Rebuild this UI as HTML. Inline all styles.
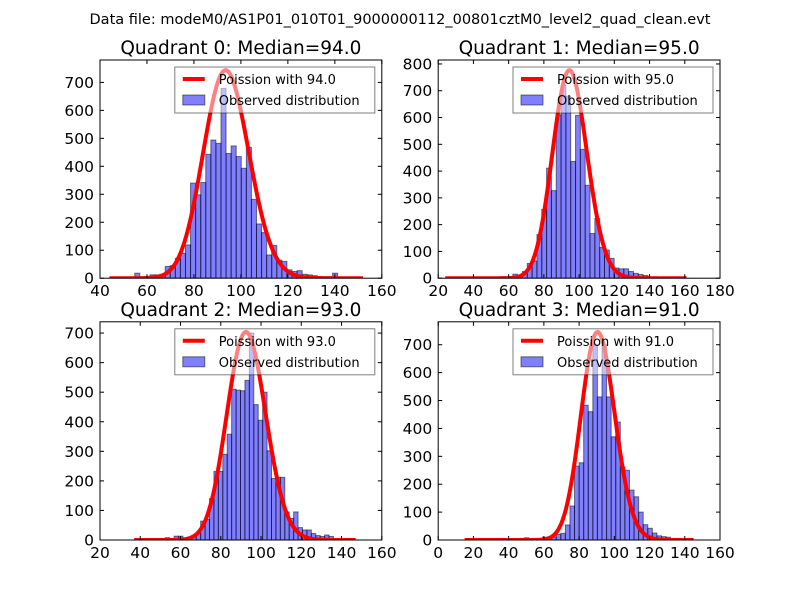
<!DOCTYPE html>
<html><head><meta charset="utf-8"><style>
html,body{margin:0;padding:0;background:#fff;}
svg{display:block;font-family:"DejaVu Sans","Liberation Sans",sans-serif;}
</style></head><body>
<svg id="fig" width="800" height="600" viewBox="0 0 800 600">
<rect width="800" height="600" fill="#fff"/>
<text x="400" y="24" text-anchor="middle" font-size="14.5">Data file: modeM0/AS1P01_010T01_9000000112_00801cztM0_level2_quad_clean.evt</text>
</svg>
<script>
// ---- data ----
const medians = [94, 95, 93, 91];
const curvePeaks = [743, 776, 703, 745];
const curveStarts = [44, 24, 37, 15];
const curveEnds = [152, 161, 147, 145];
const binStarts = [44, 24, 37, 15];
const binWidths = [2.16, 2.74, 2.2, 2.6];
const counts0 = [0,0,0,0,0,18,0,0,12,12,14,42,45,71,89,119,340,298,342,443,494,482,679,446,473,435,393,468,282,194,163,83,117,65,60,30,24,27,14,12,9,6,0,0,18,0,0,0,0,0];
const counts1 = [0,0,0,0,0,0,0,0,0,0,0,0,5,0,15,9,25,55,64,163,257,411,327,610,720,680,436,608,481,347,167,223,115,105,74,38,35,35,25,18,14,10,0,5,0,0,0,0,0,0];
const counts2 = [0,0,0,0,0,0,0,8,0,13,13,5,10,16,22,64,70,140,232,232,290,358,510,507,505,540,700,458,405,500,302,208,212,212,95,73,95,42,34,34,22,15,12,17,12,5,0,0,0,0];
const counts3 = [0,0,0,0,0,0,0,0,0,0,0,0,0,8,0,0,5,10,10,10,20,24,54,122,265,277,483,460,700,513,700,513,370,423,262,250,179,155,100,55,42,25,15,12,10,0,0,0,0,0];
const allCounts = [counts0, counts1, counts2, counts3];
const xRanges = [[40,160],[20,180],[20,160],[0,160]];
const xTicks0 = [40,60,80,100,120,140,160];
const xTicks1 = [20,40,60,80,100,120,140,160,180];
const xTicks2 = [20,40,60,80,100,120,140,160];
const xTicks3 = [0,20,40,60,80,100,120,140,160];
const allXTicks = [xTicks0, xTicks1, xTicks2, xTicks3];
const yTicks0 = [0,100,200,300,400,500,600,700];
const yTicks1 = [0,100,200,300,400,500,600,700,800];
const yTicks2 = [0,100,200,300,400,500,600,700];
const yTicks3 = [0,100,200,300,400,500,600,700];
const allYTicks = [yTicks0, yTicks1, yTicks2, yTicks3];

const NS = "http://www.w3.org/2000/svg";
const fig = document.getElementById('fig');
const boxes = [[100,60,281.8,218.2],[438.2,60,281.8,218.2],[100,321.8,281.8,218.2],[438.2,321.8,281.8,218.2]];
function mk(tag, attrs, parent){const e=document.createElementNS(NS,tag);for(const k in attrs)e.setAttribute(k,attrs[k]);(parent||fig).appendChild(e);return e;}
function lgamma(z){
  let s=0; while(z<7){s-=Math.log(z);z+=1;}
  const z2=1/(z*z);
  return s+(z-0.5)*Math.log(z)-z+0.5*Math.log(2*Math.PI)+(1/12-z2*(1/360-z2/1260))/z;
}
function logPois(k,l){return k*Math.log(l)-l-lgamma(k+1);}

for(let q=0;q<4;q++){
  const [L,T,W,H]=boxes[q];
  const [x0,x1]=xRanges[q];
  const ymax=curvePeaks[q]*1.05;
  const X=u=>L+(u-x0)/(x1-x0)*W;
  const Y=v=>T+H-v/ymax*H;
  const g=mk('g',{});
  
  
  const clipId='clip'+q;
  const cp=mk('clipPath',{id:clipId},g); mk('rect',{x:L,y:T,width:W,height:H},cp);
  const plot=mk('g',{'clip-path':'url(#'+clipId+')'},g);
  const cs=allCounts[q];
  for(let i=0;i<cs.length;i++){
    if(cs[i]<=0) continue;
    const a=binStarts[q]+i*binWidths[q], b=a+binWidths[q];
    const r=mk('rect',{x:X(a),y:Y(cs[i]),width:X(b)-X(a),height:Y(0)-Y(cs[i]),fill:'#0000ff','fill-opacity':0.5,stroke:'#000','stroke-opacity':0.5,'stroke-width':1},plot);
    
    
  }
  const lam=medians[q];
  const mode=Math.floor(lam);
  const lm=logPois(mode,lam);
  let d='';
  for(let k=curveStarts[q];k<=curveEnds[q];k+=0.5){
    const v=curvePeaks[q]*Math.exp(logPois(k,lam)-lm);
    d+=(d?'L':'M')+X(k).toFixed(2)+','+Y(v).toFixed(2);
  }
  const c=mk('path',{d:d,fill:'none',stroke:'#ff0000','stroke-width':4,'stroke-linejoin':'round'},plot);
  
  
  for(const t of allXTicks[q]){
    const x=X(t);
    mk('line',{x1:x,x2:x,y1:T+H,y2:T+H-4,stroke:'#000'},g);
    mk('line',{x1:x,x2:x,y1:T,y2:T+4,stroke:'#000'},g);
    const tx=mk('text',{x:x,y:T+H+18,'text-anchor':'middle','font-size':15.5},g);
    tx.textContent=t;
    
    
  }
  for(const t of allYTicks[q]){
    const y=Y(t);
    mk('line',{x1:L,x2:L+4,y1:y,y2:y,stroke:'#000'},g);
    mk('line',{x1:L+W,x2:L+W-4,y1:y,y2:y,stroke:'#000'},g);
    const ty=mk('text',{x:L-6,y:y+5.5,'text-anchor':'end','font-size':15.5},g);
    ty.textContent=t;
    
    
  }
  const fr=mk('rect',{x:L,y:T,width:W,height:H,fill:'none',stroke:'#000','stroke-width':1},g);
  
  
  const ti=mk('text',{x:L+W/2,y:T-6,'text-anchor':'middle','font-size':18.5},g);
  ti.textContent='Quadrant '+q+': Median='+lam.toFixed(1);
  
  
  const lg=mk('g',{},g);
  
  
  const lx=L+W-207, ly=T+7;
  mk('rect',{x:lx,y:ly,width:200,height:46,fill:'#fff','fill-opacity':0.5,stroke:'#000','stroke-opacity':0.5,'stroke-width':1},lg);
  mk('line',{x1:lx+8,x2:lx+30,y1:ly+12,y2:ly+12,stroke:'#ff0000','stroke-width':4},lg);
  const t1=mk('text',{x:lx+44,y:ly+17,'font-size':13},lg);
  t1.textContent='Poission with '+lam.toFixed(1);
  
  
  mk('rect',{x:lx+8,y:ly+28,width:22,height:10,fill:'#0000ff','fill-opacity':0.5,stroke:'#000','stroke-opacity':0.5},lg);
  const t2=mk('text',{x:lx+44,y:ly+38,'font-size':13},lg);
  t2.textContent='Observed distribution';
  
  
}
</script>
</body></html>
